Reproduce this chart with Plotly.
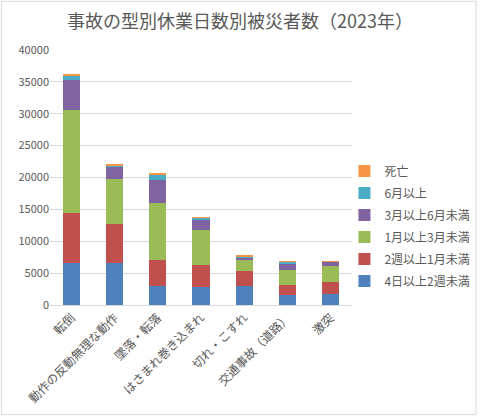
import plotly.graph_objects as go

# 事故の型
categories = ['転倒', '動作の反動無理な動作', '墜落・転落', 'はさまれ巻き込まれ',
              '切れ・こすれ', '交通事故（道路）', '激突']

# 休業日数別の被災者数（図から読み取った概算値）
days_4_to_2w = [6540, 6550, 3000, 2820, 3030, 1570, 1780]
w2_to_1m = [7890, 6150, 4060, 3450, 2300, 1570, 1830]
m1_to_3m = [16160, 7000, 8940, 5490, 1730, 2350, 2510]
m3_to_6m = [4700, 1950, 3600, 1570, 360, 940, 630]
over_6m = [740, 300, 800, 320, 110, 320, 50]
deaths = [100, 30, 300, 150, 160, 150, 100]

series = [
    ('4日以上2週未満', days_4_to_2w, '#4F81BD'),
    ('2週以上1月未満', w2_to_1m, '#C0504D'),
    ('1月以上3月未満', m1_to_3m, '#9BBB59'),
    ('3月以上6月未満', m3_to_6m, '#8064A2'),
    ('6月以上', over_6m, '#4BACC6'),
    ('死亡', deaths, '#F79646'),
]

font_family = 'Noto Sans CJK JP'

fig = go.Figure()
for i, (name, values, color) in enumerate(series):
    fig.add_trace(go.Bar(x=categories, y=values, name=name, legendgroup=name,
                         legendrank=100 - i,
                         marker=dict(color=color, line=dict(width=0))))

fig.update_layout(
    width=480, height=417,
    barmode='stack',
    bargap=0.6,
    plot_bgcolor='white',
    paper_bgcolor='white',
    font=dict(family=font_family, color='#595959', size=11),
    title=dict(text='事故の型別休業日数別被災者数（2023年）',
               x=0.5, xanchor='center', y=0.947, yanchor='middle',
               font=dict(size=18, color='#595959', family=font_family)),
    margin=dict(l=50, r=128, t=50, b=112, autoexpand=False),
    legend=dict(traceorder='grouped', tracegroupgap=3, itemwidth=30,
                x=0.975, xanchor='left', y=0.31, yanchor='middle',
                bgcolor='rgba(0,0,0,0)',
                font=dict(size=12, color='#595959')),
    showlegend=True,
)

fig.update_yaxes(range=[0, 40000], dtick=5000, showgrid=True,
                 gridcolor='#D9D9D9', gridwidth=1, zeroline=False,
                 showline=False, tickfont=dict(size=11), ticks='',
                 tickformat='d', automargin=False)
fig.update_xaxes(tickangle=-45, showline=True, linecolor='#D9D9D9',
                 linewidth=1, tickfont=dict(size=12), ticks='',
                 automargin=False)

# グラフ全体の枠線
fig.add_shape(type='rect', xref='paper', yref='paper',
              x0=-0.161, x1=1.411, y0=-0.43, y1=1.191,
              line=dict(color='#D9D9D9', width=1))

# ページの余白をなくす
fig.write_html('out.html', config={'displayModeBar': False},
               post_script="document.body.style.margin='0';")
